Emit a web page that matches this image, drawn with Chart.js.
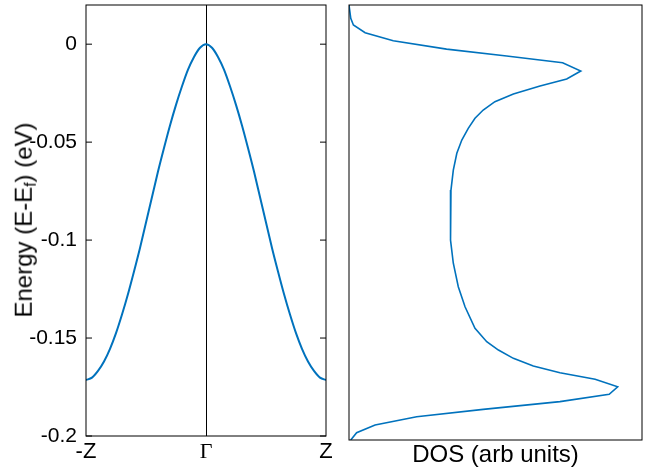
<!DOCTYPE html>
<html>
<head>
<meta charset="utf-8">
<script src="https://cdn.jsdelivr.net/npm/chart.js@4.4.1/dist/chart.umd.min.js"></script>
<style>
  html, body { margin: 0; padding: 0; background: #fff; }
  #wrap { position: relative; width: 654px; height: 473px; overflow: hidden; }
  canvas { position: absolute; top: 0; }
  #ylab {
    position: absolute; left: 25px; top: 220px;
    transform: translate(-50%, -50%) rotate(-90deg);
    font-family: "Liberation Sans", Arial, sans-serif; font-size: 24px;
    line-height: 1; white-space: nowrap; color: #000;
  }
  #ylab sub { font-size: 65%; vertical-align: -0.25em; }
</style>
</head>
<body>
<div id="wrap">
  <canvas id="band" width="340" height="473" style="left:0px"></canvas>
  <canvas id="dos" width="314" height="473" style="left:340px"></canvas>
  <div id="ylab">Energy (E-E<sub>f</sub>) (eV)</div>
</div>
<script>
// ---- data ----
const kPath = [-1, -0.95, -0.9, -0.85, -0.8, -0.75, -0.7, -0.65, -0.6, -0.55, -0.5,
               -0.45, -0.4, -0.35, -0.3, -0.25, -0.2, -0.15, -0.1, -0.05, 0,
               0.05, 0.1, 0.15, 0.2, 0.25, 0.3, 0.35, 0.4, 0.45, 0.5,
               0.55, 0.6, 0.65, 0.7, 0.75, 0.8, 0.85, 0.9, 0.95, 1];
const bandEnergy = [-0.1714, -0.1702, -0.1668, -0.1620, -0.1555, -0.1475, -0.1380, -0.1275, -0.1160, -0.1040, -0.0910,
                    -0.0780, -0.0650, -0.0530, -0.0415, -0.0310, -0.0215, -0.0130, -0.0065, -0.0018, 0,
                    -0.0018, -0.0065, -0.0130, -0.0215, -0.0310, -0.0415, -0.0530, -0.0650, -0.0780, -0.0910,
                    -0.1040, -0.1160, -0.1275, -0.1380, -0.1475, -0.1555, -0.1620, -0.1668, -0.1702, -0.1714];
const kTickValues = [-1, 0, 1];
const kTickLabels = ['-Z', 'Γ', 'Z'];
const eTickValues = [0, -0.05, -0.1, -0.15, -0.2];
const eTickLabels = ['0', '-0.05', '-0.1', '-0.15', '-0.2'];

const dosEnergy = [0.02, 0.0133, 0.0099, 0.0060, 0.0019, -0.0023, -0.0058, -0.0092, -0.0134,
  -0.0174, -0.0210, -0.0250, -0.0289, -0.0331, -0.0373, -0.0424, -0.0483, -0.0550, -0.0635,
  -0.0736, -0.0853, -0.0989, -0.1106, -0.1225, -0.1326, -0.1435, -0.1503, -0.1545, -0.1587,
  -0.1626, -0.1660, -0.1693, -0.1731, -0.1769, -0.1806, -0.1845, -0.1882, -0.1924, -0.1963, -0.2000];
const dosValue = [0.000, 0.006, 0.015, 0.055, 0.151, 0.333, 0.538, 0.729, 0.791,
  0.743, 0.652, 0.561, 0.498, 0.458, 0.430, 0.407, 0.385, 0.368, 0.356,
  0.348, 0.345, 0.348, 0.356, 0.373, 0.396, 0.430, 0.470, 0.510, 0.561,
  0.629, 0.720, 0.840, 0.917, 0.888, 0.720, 0.458, 0.231, 0.089, 0.026, 0.006];

const lineColor = '#0072BD';
const sans = '"Liberation Sans", Arial, sans-serif';
const serif = '"Liberation Serif", "Times New Roman", serif';

const framePlugin = {
  id: 'frame',
  afterDraw(chart, args, opts) {
    const {ctx, chartArea: a} = chart;
    ctx.save();
    ctx.strokeStyle = '#000';
    ctx.lineWidth = 1;
    ctx.strokeRect(a.left, a.top, a.right - a.left, a.bottom - a.top);
    if (opts.ticks) {
      const ys = chart.scales.y;
      ys.ticks.forEach(t => {
        const py = ys.getPixelForValue(t.value);
        ctx.beginPath();
        ctx.moveTo(a.left, py); ctx.lineTo(a.left + 6, py);
        ctx.moveTo(a.right - 6, py); ctx.lineTo(a.right, py);
        ctx.stroke();
      });
    }
    ctx.restore();
  }
};

const noPad = s => { s.paddingTop = 0; s.paddingBottom = 0; s.paddingLeft = 0; s.paddingRight = 0; };

new Chart(document.getElementById('band'), {
  type: 'line',
  data: {
    datasets: [{
      data: kPath.map((k, i) => ({x: k, y: bandEnergy[i]})),
      borderColor: lineColor, borderWidth: 2, pointRadius: 0,
      cubicInterpolationMode: 'monotone', fill: false
    }]
  },
  plugins: [framePlugin],
  options: {
    responsive: false, animation: false,
    layout: {padding: {top: 5, right: 14, left: 0, bottom: 0}},
    plugins: {legend: {display: false}, tooltip: {enabled: false}, frame: {ticks: true}},
    scales: {
      x: {
        type: 'linear', min: -1, max: 1,
        afterBuildTicks: s => { s.ticks = kTickValues.map(v => ({value: v})); },
        afterFit: s => { s.height = 37; noPad(s); },
        border: {display: false},
        grid: {
          drawTicks: false,
          color: c => (c.tick && c.tick.value === 0) ? '#000' : 'rgba(0,0,0,0)',
          lineWidth: 1
        },
        ticks: {
          padding: 3, color: '#000', maxRotation: 0,
          callback: v => kTickLabels[kTickValues.indexOf(v)],
          font: c => (c.tick && c.tick.value === 0) ? {family: serif, size: 22} : {family: sans, size: 22}
        }
      },
      y: {
        type: 'linear', min: -0.2, max: 0.02,
        afterBuildTicks: s => { s.ticks = eTickValues.map(v => ({value: v})); },
        afterFit: s => { s.width = 86; noPad(s); },
        border: {display: false},
        grid: {display: false, drawTicks: false},
        ticks: {
          padding: 9, color: '#000',
          callback: v => eTickLabels[eTickValues.indexOf(v)],
          font: {family: sans, size: 21}
        }
      }
    }
  }
});

new Chart(document.getElementById('dos'), {
  type: 'line',
  data: {
    datasets: [{
      data: dosValue.map((d, i) => ({x: d, y: dosEnergy[i]})),
      borderColor: lineColor, borderWidth: 1.6, pointRadius: 0,
      tension: 0, fill: false
    }]
  },
  plugins: [framePlugin],
  options: {
    responsive: false, animation: false,
    layout: {padding: {top: 5, right: 12, left: 9, bottom: 0}},
    plugins: {legend: {display: false}, tooltip: {enabled: false}, frame: {ticks: false}},
    scales: {
      x: {
        type: 'linear', min: 0, max: 1,
        afterFit: s => { s.height = 33; noPad(s); },
        border: {display: false},
        grid: {display: false, drawTicks: false},
        ticks: {display: false},
        title: {display: true, text: 'DOS (arb units)', color: '#000',
                font: {family: sans, size: 24}, padding: {top: 0, bottom: 3}}
      },
      y: {
        type: 'linear', min: -0.2, max: 0.02, display: false
      }
    }
  }
});
</script>
</body>
</html>
